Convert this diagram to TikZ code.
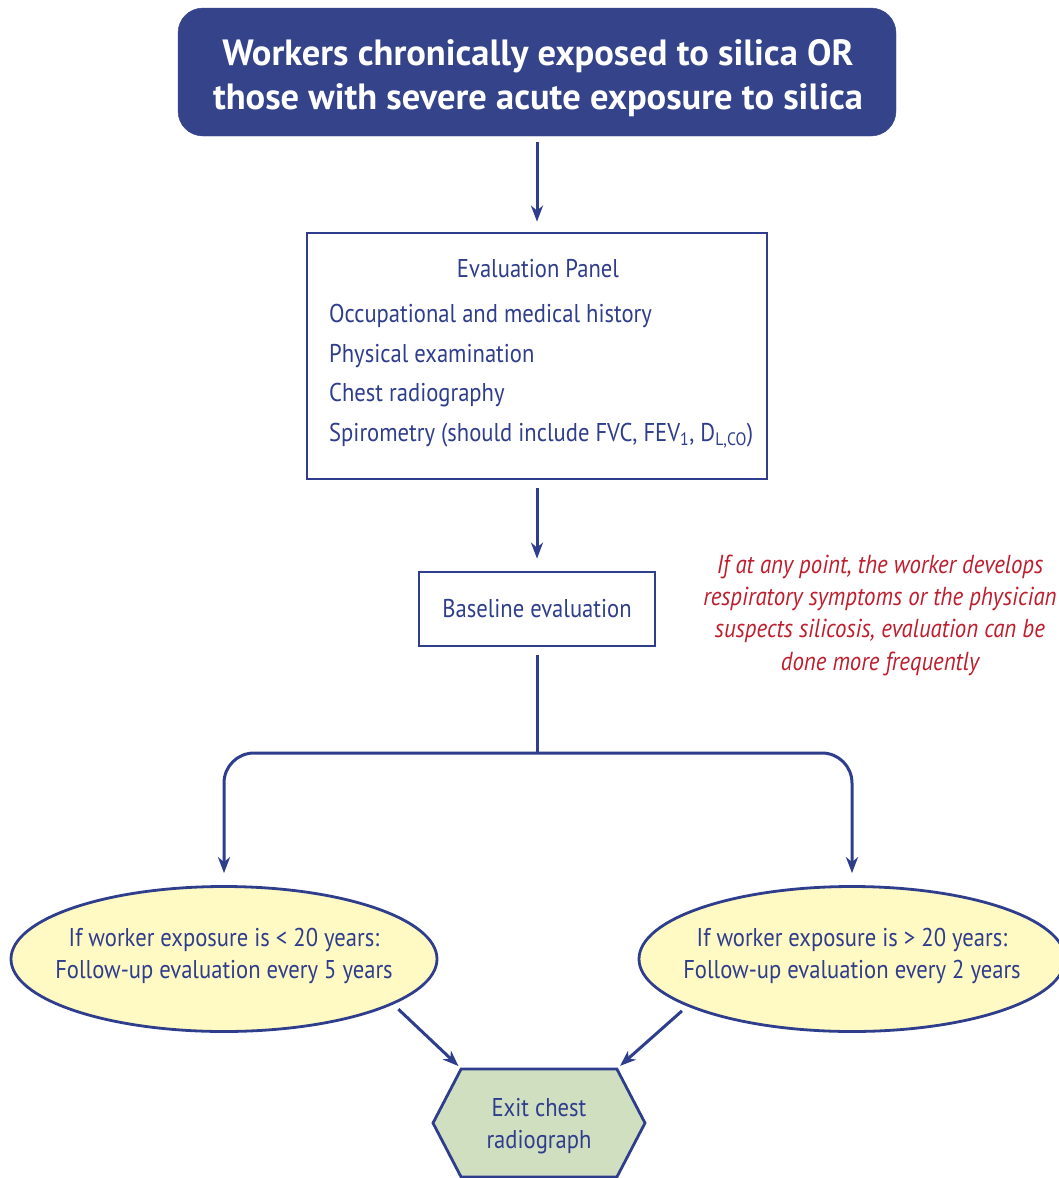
\documentclass[tikz,border=0pt]{standalone}
\usepackage{fontspec}
\setmainfont{PT Sans}[FakeStretch=0.88]
\newfontfamily\titlefont{PT Sans}
\usetikzlibrary{positioning,shapes.geometric,shapes.symbols,arrows.meta}
\definecolor{navy}{RGB}{52,67,138}
\definecolor{lineblue}{RGB}{46,62,140}
\definecolor{notered}{RGB}{190,30,45}
\definecolor{paleyellow}{RGB}{255,249,196}
\definecolor{palegreen}{RGB}{209,223,193}

\begin{document}
\begin{tikzpicture}[
        x=1pt, y=-1pt,        % one unit is one pixel of the reference, y going down
        node distance=3cm,    % Distance between the nodes
        >={Stealth[length=16pt,width=12pt,inset=5pt]}, % Arrow style
        every node/.style={text=lineblue, font=\fontsize{25.7}{39.7}\selectfont},
        titlebox/.style={draw=navy, fill=navy, rounded corners=25pt, minimum width=718pt, minimum height=128pt},
        titletext/.style={text=white, align=center, font=\titlefont\bfseries\fontsize{36.5}{44}\selectfont},
        panel/.style={draw=lineblue, line width=2.8pt, minimum width=460pt, minimum height=246pt},
        stepbox/.style={draw=lineblue, line width=2.8pt, minimum width=236pt, minimum height=74pt},
        oval/.style={ellipse, draw=lineblue, line width=2.8pt, fill=paleyellow, minimum width=426pt, minimum height=145pt},
        ovaltext/.style={align=center, font=\fontsize{25.7}{32}\selectfont},
        exitbox/.style={signal, signal to=west and east, signal pointer angle=125, draw=lineblue, line width=2.8pt, fill=palegreen, minimum width=212pt, minimum height=108pt, text depth=0pt, align=center, font=\fontsize{25.7}{32}\selectfont},
        note/.style={text=notered, align=center, font=\itshape\fontsize{26}{32.3}\selectfont},
        link/.style={->, draw=lineblue, line width=3pt}
    ]
    \fill[white] (0,0) rectangle (1059,1178);
    \useasboundingbox (0,0) rectangle (1059,1178);

    % Define the nodes with text inside boxes
    \node[titlebox] (exposed) at (537,72) {};
    \node[titletext] (exposedtext) at (538,78) {Workers chronically exposed to silica OR\\those with severe acute exposure to silica};
    \node[panel] (panel) at (537,356) {};
    \node (paneltitle) at (538,269) {Evaluation Panel};
    \node[anchor=north west, align=left, inner sep=0pt] (panelitems) at (329,304) {Occupational and medical history\\Physical examination\\Chest radiography\\Spirometry (should include FVC, FEV\textsubscript{1}, D\textsubscript{L,CO})};
    \node[stepbox] (baseline) at (537,609) {Baseline evaluation};
    \node[note] (anypoint) at (880,615) {If at any point, the worker develops\\respiratory symptoms or the physician\\suspects silicosis, evaluation can be\\done more frequently};
    \node[oval] (under20) at (224,959) {};
    \node[ovaltext] (under20text) at (224,956) {If worker exposure is < 20 years:\\Follow-up evaluation every 5 years};
    \node[oval] (over20) at (852,959) {};
    \node[ovaltext] (over20text) at (852,956) {If worker exposure is > 20 years:\\Follow-up evaluation every 2 years};
    \node[exitbox] (exit) at (539,1123) {Exit chest\\radiograph};
    \coordinate (split) at (537,753);

    % Draw arrows between the boxes
    \draw[link, shorten <=6pt, shorten >=10pt] (exposed) -- (panel);
    \draw[link, shorten <=8pt, shorten >=12pt] (panel) -- (baseline);
    \draw[link, -, shorten <=8pt] (baseline) -- (split);
    \draw[link, rounded corners=30pt, shorten >=12pt] (split) -| (under20.north);
    \draw[link, rounded corners=30pt, shorten >=12pt] (split) -| (over20.north);
    \draw[link, shorten <=7pt, shorten >=3pt] (under20.-15) -- (exit.145);
    \draw[link, shorten <=7pt, shorten >=3pt] (over20.196) -- (exit.35);

\end{tikzpicture}
\end{document}
